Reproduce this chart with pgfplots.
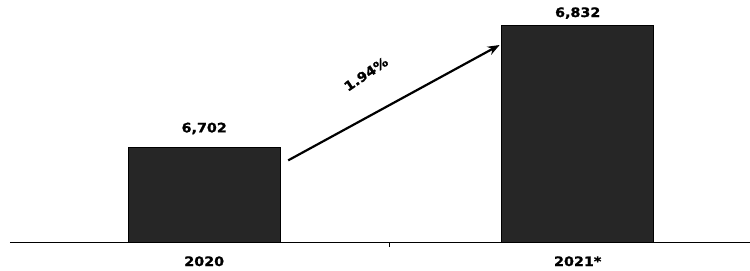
\documentclass[border=0pt]{standalone}
\usepackage{pgfplots}
\pgfplotsset{compat=1.18}
\usepackage{fontspec}
\setmainfont{DejaVu Sans}[FakeStretch=1.1, BoldFeatures={FakeBold=1.2}]
\usetikzlibrary{arrows.meta}
\begin{document}
\begin{tikzpicture}
\path (-10pt,-28pt) rectangle (740pt,243pt);
\begin{axis}[
  scale only axis,
  width=740pt, height=243pt,
  xmin=-0.52, xmax=1.46,
  ymin=6600, ymax=6859,
  axis x line*=bottom,
  axis y line=none,
  x axis line style={-, line width=1pt},
  xtick={0,1},
  xticklabels={2020,2021*},
  major tick length=0pt,
  extra x ticks={0.495},
  extra x tick labels={},
  extra x tick style={major tick length=4pt, tick align=outside, tick style={black, line width=0.8pt}},
  xticklabel style={font=\bfseries\fontsize{13}{15}\selectfont, yshift=-10pt},
  ytick=\empty,
  clip=false,
]
\addplot[ybar, bar width=152pt, fill=black!85, draw=black, line width=1pt]
  coordinates {(0,6702) (1,6832)};
\addplot[line width=2.2pt, -{Stealth[length=12pt,width=9pt]}]
  coordinates {(0.225,6688) (0.791,6811)};
\node[font=\bfseries\fontsize{13}{15}\selectfont] at (axis cs:0,6722) {6,702};
\node[font=\bfseries\fontsize{13}{15}\selectfont] at (axis cs:1,6845) {6,832};
\node[font=\bfseries\fontsize{13}{15}\selectfont, rotate=34] at (axis cs:0.433,6780) {1.94\%};
\end{axis}
\end{tikzpicture}
\end{document}
